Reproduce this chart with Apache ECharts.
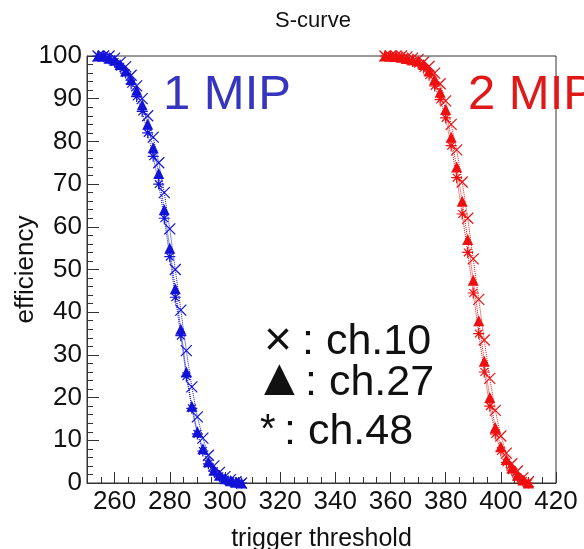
<!DOCTYPE html>
<html>
<head>
<meta charset="utf-8">
<script src="https://cdn.jsdelivr.net/npm/echarts@6/dist/echarts.min.js"></script>
<style>html,body{margin:0;padding:0;background:#fff}#c{width:584px;height:549px}</style>
</head>
<body>
<div id="c"></div>
<script>
// ---- data ----
const thr1 = [254,256,258,260,262,264,266,268,270,272,274,276,278,280,282,284,286,288,290,292,294,296,298,300,302,304,306];
const mip1_ch10 = [100,100,100,99.5,98.5,97.5,95.5,93,90,86,81,75,68,59.5,50,40.5,31,22.5,15.5,10.5,6.5,4,2.5,1.5,0.8,0.3,0];
const mip1_ch27 = [100,100,99.5,99,98,96.5,94.5,92,88.5,84,78.5,72.5,64,55,45.5,36,26,18,12,8,5,3,1.8,1,0.5,0.2,0];
const mip1_ch48 = [100,99.8,99.3,98.6,97.5,96,93.5,90.5,87,82,76.5,70,62,53,43.5,34.5,25,17.5,11.5,7.5,4.5,2.8,1.6,0.8,0.4,0.1,0];

const thr2 = [358,360,362,364,366,368,370,372,374,376,378,380,382,384,386,388,390,392,394,396,398,400,402,404,406,408,410];
const mip2_ch10 = [100,100,100,100,99.8,99.5,99.2,98.6,97.6,96,93.5,89.5,84,78,70.5,62,52.5,43,33.5,24.5,17,11,7,4.5,2.8,1.2,0.3];
const mip2_ch27 = [100,100,99.9,99.7,99.4,99.1,98.8,98,96.5,94.5,91.5,87.5,81,74,66,57,47.5,38,28.5,20,13,8.5,5.5,3.5,1.8,0.7,0];
const mip2_ch48 = [100,99.9,99.8,99.5,99.1,98.7,98.2,97.2,95.5,93,89.8,85.5,79,71.5,63,54,44.5,35,26,18,11.5,7.5,4.8,3,1.4,0.5,0];

const xMajorTicks = [260,280,300,320,340,360,380,400,420];
const xMinorTicks = [255,265,270,275,285,290,295,305,310,315,325,330,335,345,350,355,365,370,375,385,390,395,405,410,415];

// ---- styling ----
const BLUE = '#1212d8', RED = '#ee1010';
const FONT = 'Liberation Sans, Arial, Helvetica, sans-serif';
const CROSS = 'path://M0,0L10,10M10,0L0,10';
const STAR = 'path://M5,0L5,10M0,5L10,5M1.5,1.5L8.5,8.5M8.5,1.5L1.5,8.5';

function pts(x, y) { return x.map((v, i) => [v, y[i]]); }
function ser(name, x, y, color, marker) {
  const stroke = marker !== 'triangle';
  return {
    name, type: 'line', data: pts(x, y),
    symbol: marker, symbolSize: 11,
    showAllSymbol: true,
    lineStyle: { color, width: 1, type: 'dotted' },
    itemStyle: stroke ? { color: 'rgba(0,0,0,0)', borderColor: color, borderWidth: 1.2 } : { color, borderWidth: 0 },
    emphasis: { disabled: true },
    clip: false
  };
}

const chart = echarts.init(document.getElementById('c'), null, { renderer: 'canvas' });
chart.setOption({
  animation: false,
  backgroundColor: '#fff',
  title: {
    text: 'S-curve', left: 308, top: 5, textAlign: 'center',
    textStyle: { fontFamily: FONT, fontSize: 22, fontWeight: 'normal', color: '#111' }
  },
  grid: {
    left: 87, right: 28, top: 56, bottom: 66,
    show: true, borderColor: '#333', borderWidth: 1,
    containLabel: false, outerBoundsMode: 'none'
  },
  xAxis: [{
    type: 'value', min: 250, max: 420,
    name: 'trigger threshold', nameLocation: 'middle', nameGap: 44,
    nameTextStyle: { fontFamily: FONT, fontSize: 25, color: '#111' },
    axisLine: { lineStyle: { color: '#333', width: 1 } },
    axisTick: { inside: true, length: 11, customValues: xMajorTicks, lineStyle: { color: '#333' } },
    axisLabel: { customValues: xMajorTicks, fontFamily: FONT, fontSize: 26, color: '#111', margin: 6 },
    splitLine: { show: false }
  }, {
    type: 'value', min: 250, max: 420, position: 'bottom',
    axisLine: { show: false },
    axisTick: { inside: true, length: 6, customValues: xMinorTicks, lineStyle: { color: '#333' } },
    axisLabel: { show: false },
    splitLine: { show: false }
  }],
  yAxis: {
    type: 'value', min: 0, max: 100, interval: 10,
    name: 'efficiency', nameLocation: 'middle', nameGap: 48, nameMoveOverlap: false,
    nameTextStyle: { fontFamily: FONT, fontSize: 26, color: '#111' },
    axisLine: { show: true, lineStyle: { color: '#333', width: 1 } },
    axisTick: { inside: true, length: 12, lineStyle: { color: '#333' } },
    minorTick: { show: true, splitNumber: 5, length: 6, lineStyle: { color: '#333' } },
    axisLabel: { fontFamily: FONT, fontSize: 26, color: '#111', margin: 5 },
    splitLine: { show: false }
  },
  series: [
    ser('1 MIP ch.10', thr1, mip1_ch10, BLUE, CROSS),
    ser('1 MIP ch.27', thr1, mip1_ch27, BLUE, 'triangle'),
    ser('1 MIP ch.48', thr1, mip1_ch48, BLUE, STAR),
    ser('2 MIP ch.10', thr2, mip2_ch10, RED, CROSS),
    ser('2 MIP ch.27', thr2, mip2_ch27, RED, 'triangle'),
    ser('2 MIP ch.48', thr2, mip2_ch48, RED, STAR)
  ],
  graphic: [
    { type: 'text', left: 163, top: 71, style: { text: '1 MIP', font: '49px ' + FONT, fill: '#3535c0' }, z: 10 },
    { type: 'text', left: 468, top: 71, style: { text: '2 MIP', font: '49px ' + FONT, fill: '#e01818' }, z: 10 },
    { type: 'text', left: 264, top: 318, style: { text: '×', font: '48px ' + FONT, fill: '#111' }, z: 10 },
    { type: 'text', left: 302, top: 321, style: { text: ': ch.10', font: '43px ' + FONT, fill: '#111' }, z: 10 },
    { type: 'text', left: 264, top: 360, style: { text: '▲', font: '40px DejaVu Sans, sans-serif', fill: '#111' }, z: 10 },
    { type: 'text', left: 305, top: 362, style: { text: ': ch.27', font: '43px ' + FONT, fill: '#111' }, z: 10 },
    { type: 'text', left: 260, top: 411, style: { text: '*', font: '40px ' + FONT, fill: '#111' }, z: 10 },
    { type: 'text', left: 284, top: 411, style: { text: ': ch.48', font: '43px ' + FONT, fill: '#111' }, z: 10 }
  ]
});
</script>
</body>
</html>
